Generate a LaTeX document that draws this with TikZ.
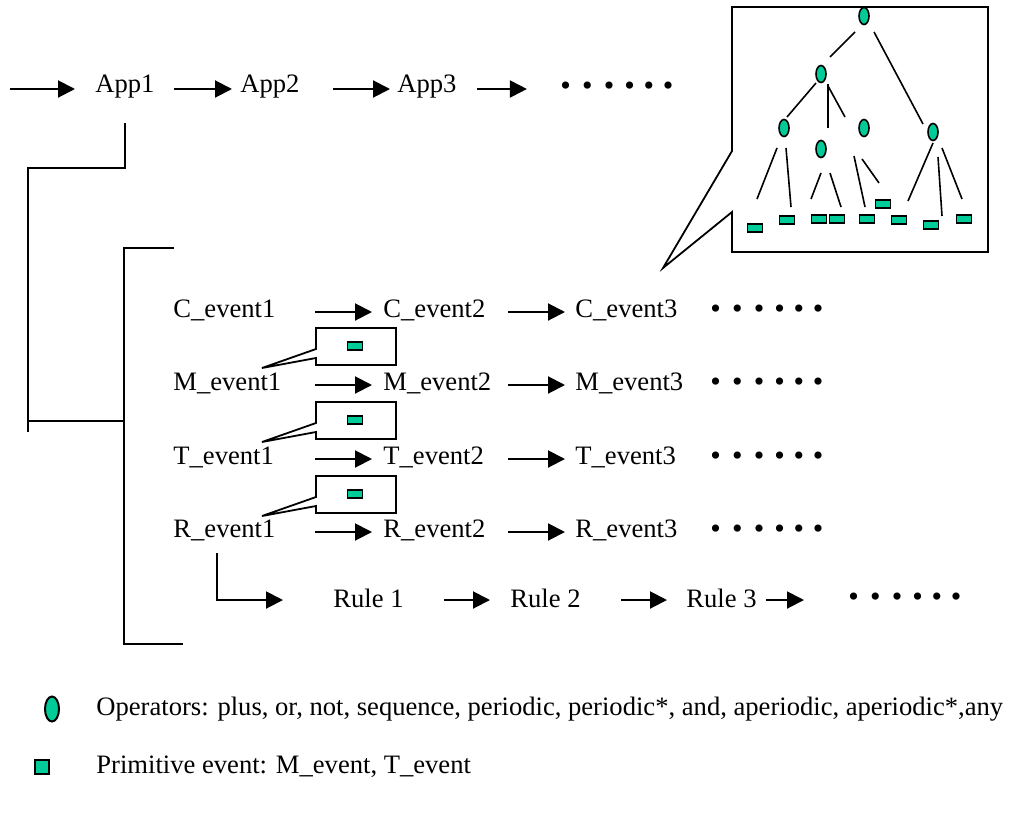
\documentclass[tikz,border=0pt]{standalone}
\usepackage{fontspec}
\setmainfont{Liberation Serif}
\usetikzlibrary{arrows.meta,calc,shapes.geometric}

\definecolor{opfill}{RGB}{0,204,153}
\tikzset{
  px/.style={x=0.5pt,y=-0.5pt},
  lbl/.style={inner sep=0pt,anchor=west,font=\fontsize{13.3}{16}\selectfont},
  arr/.style={line width=1pt,-{Triangle[length=8.5pt,width=8.5pt]}},
  ln/.style={line width=1pt},
  opnode/.style={ellipse,draw=black,line width=0.8pt,fill=opfill,minimum width=5pt,minimum height=8.5pt,inner sep=0pt},
  evnode/.style={rectangle,draw=black,line width=0.8pt,fill=opfill,minimum width=7.5pt,minimum height=4pt,inner sep=0pt},
  dots/.style={inner sep=0pt,anchor=west,font=\fontsize{15}{16}\selectfont},
}
\newcommand\dotrun{•\hspace{5.6pt}•\hspace{5.6pt}•\hspace{5pt}•\hspace{4.4pt}•\hspace{4.4pt}•}

\begin{document}
\begin{tikzpicture}[px]
\useasboundingbox (0,0) rectangle (1010,819);

% application chain
\coordinate (in) at (10,89);
\node[lbl] (app1) at (95,87) {App1};
\node[lbl] (app2) at (240,87) {App2};
\node[lbl] (app3) at (397,87) {App3};
\node[dots] (appd) at (560,89) {\dotrun};
\draw[arr] (in) -- ($(app1.west)+(-20,2)$);
\draw[arr] ($(app1.east)+(19,2)$) -- ($(app2.west)+(-8,2)$);
\draw[arr] ($(app2.east)+(33,2)$) -- ($(app3.west)+(-7,2)$);
\draw[arr] ($(app3.east)+(20,2)$) -- ($(app3.east)+(70,2)$);

% brackets
\coordinate (b1) at (28,168);
\coordinate (b2) at (28,432);
\coordinate (br) at (124,421);
\coordinate (bt) at (124,248);
\coordinate (bb) at (124,644);
\draw[ln] ($(app1.south)+(0,24)$) |- (b1) -- (b2);
\draw[ln] (28,421) -- (br);
\draw[ln] (174,248) -- (bt) -- (bb) -- (183,644);

% event rows
\foreach \r/\y in {C/310,M/383,T/457,R/530}{
  \node[lbl] (\r1) at (173,\y) {\r\_event1};
  \node[lbl] (\r2) at (383,\y) {\r\_event2};
  \node[lbl] (\r3) at (575,\y) {\r\_event3};
  \node[dots] (\r d) at (710,\y+2) {\dotrun};
  \draw[arr] ($(\r1.west)+(142,2)$) -- ($(\r2.west)+(-11,2)$);
  \draw[arr] ($(\r2.west)+(125,2)$) -- ($(\r3.west)+(-10,2)$);
}

% rule chain
\node[lbl] (rule1) at (333,598) {Rule 1};
\node[lbl] (rule2) at (510,598) {Rule 2};
\node[lbl] (rule3) at (686,598) {Rule 3};
\node[dots] (ruled) at (848,600) {\dotrun};
\coordinate (rk) at (217,553);
\draw[arr] (rk) |- ($(rule1.west)+(-50,2)$);
\draw[arr] ($(rule1.east)+(40,2)$) -- ($(rule2.west)+(-20,2)$);
\draw[arr] ($(rule2.east)+(40,2)$) -- ($(rule3.west)+(-19,2)$);
\draw[arr] ($(rule3.east)+(9,2)$) -- ($(rule3.east)+(47,2)$);

% callouts holding one primitive event each
\foreach \i/\t in {1/328,2/402,3/476}{
  \coordinate (tip\i) at (262,\t+40);
  \draw[ln,line width=0.9pt] (316,\t+21) -- (316,\t) -- (396,\t) -- (396,\t+37) -- (316,\t+37) -- (316,\t+30) -- (tip\i) -- cycle;
  \node[evnode] (pe\i) at (355,\t+18) {};
}

% operator tree callout
\coordinate (ttip) at (663,268);
\draw[ln,line width=0.9pt] (732,151) -- (732,7) -- (988,7) -- (988,252) -- (732,252) -- (732,212) -- (ttip) -- cycle;

\node[opnode] (o0) at (864,16) {};
\node[opnode] (o1) at (821,74) {};
\node[opnode] (o2) at (784,128) {};
\node[opnode] (o3) at (821,149) {};
\node[opnode] (o4) at (864,128) {};
\node[opnode] (o5) at (933,132) {};
\foreach \p/\q in {{855,32}/{830,57},{874,32}/{923,124},{816,83}/{787,117},{828,84}/{828,128},{828,86}/{845,117},
  {777,148}/{757,199},{786,148}/{791,207},{821,173}/{811,199},{830,173}/{841,207},{854,156}/{865,207},{862,159}/{879,183},
  {933,143}/{908,201},{938,157}/{942,216},{942,148}/{962,199}}
  \draw[ln,line width=0.8pt] (\p) -- (\q);
\foreach \n/\p in {e1/{755,228},e2/{787,220},e3/{819,219},e4/{837,219},e5/{867,219},e6/{883,204},e7/{899,220},e8/{931,225},e9/{964,219}}
  \node[evnode] (\n) at (\p) {};

% legend
\node[opnode,minimum width=7pt,minimum height=12.5pt,line width=1pt] (lgop) at (52,709) {};
\node[lbl] (lgoptext) at (96,709) {Operators: plus, or, not, sequence, periodic, periodic*, and, aperiodic, aperiodic*,any};
\node[rectangle,draw=black,line width=1pt,fill=opfill,minimum size=7pt,inner sep=0pt] (lgev) at (42,767) {};
\node[lbl] (lgevtext) at (96,767) {Primitive event: M\_event, T\_event};
\end{tikzpicture}
\end{document}
